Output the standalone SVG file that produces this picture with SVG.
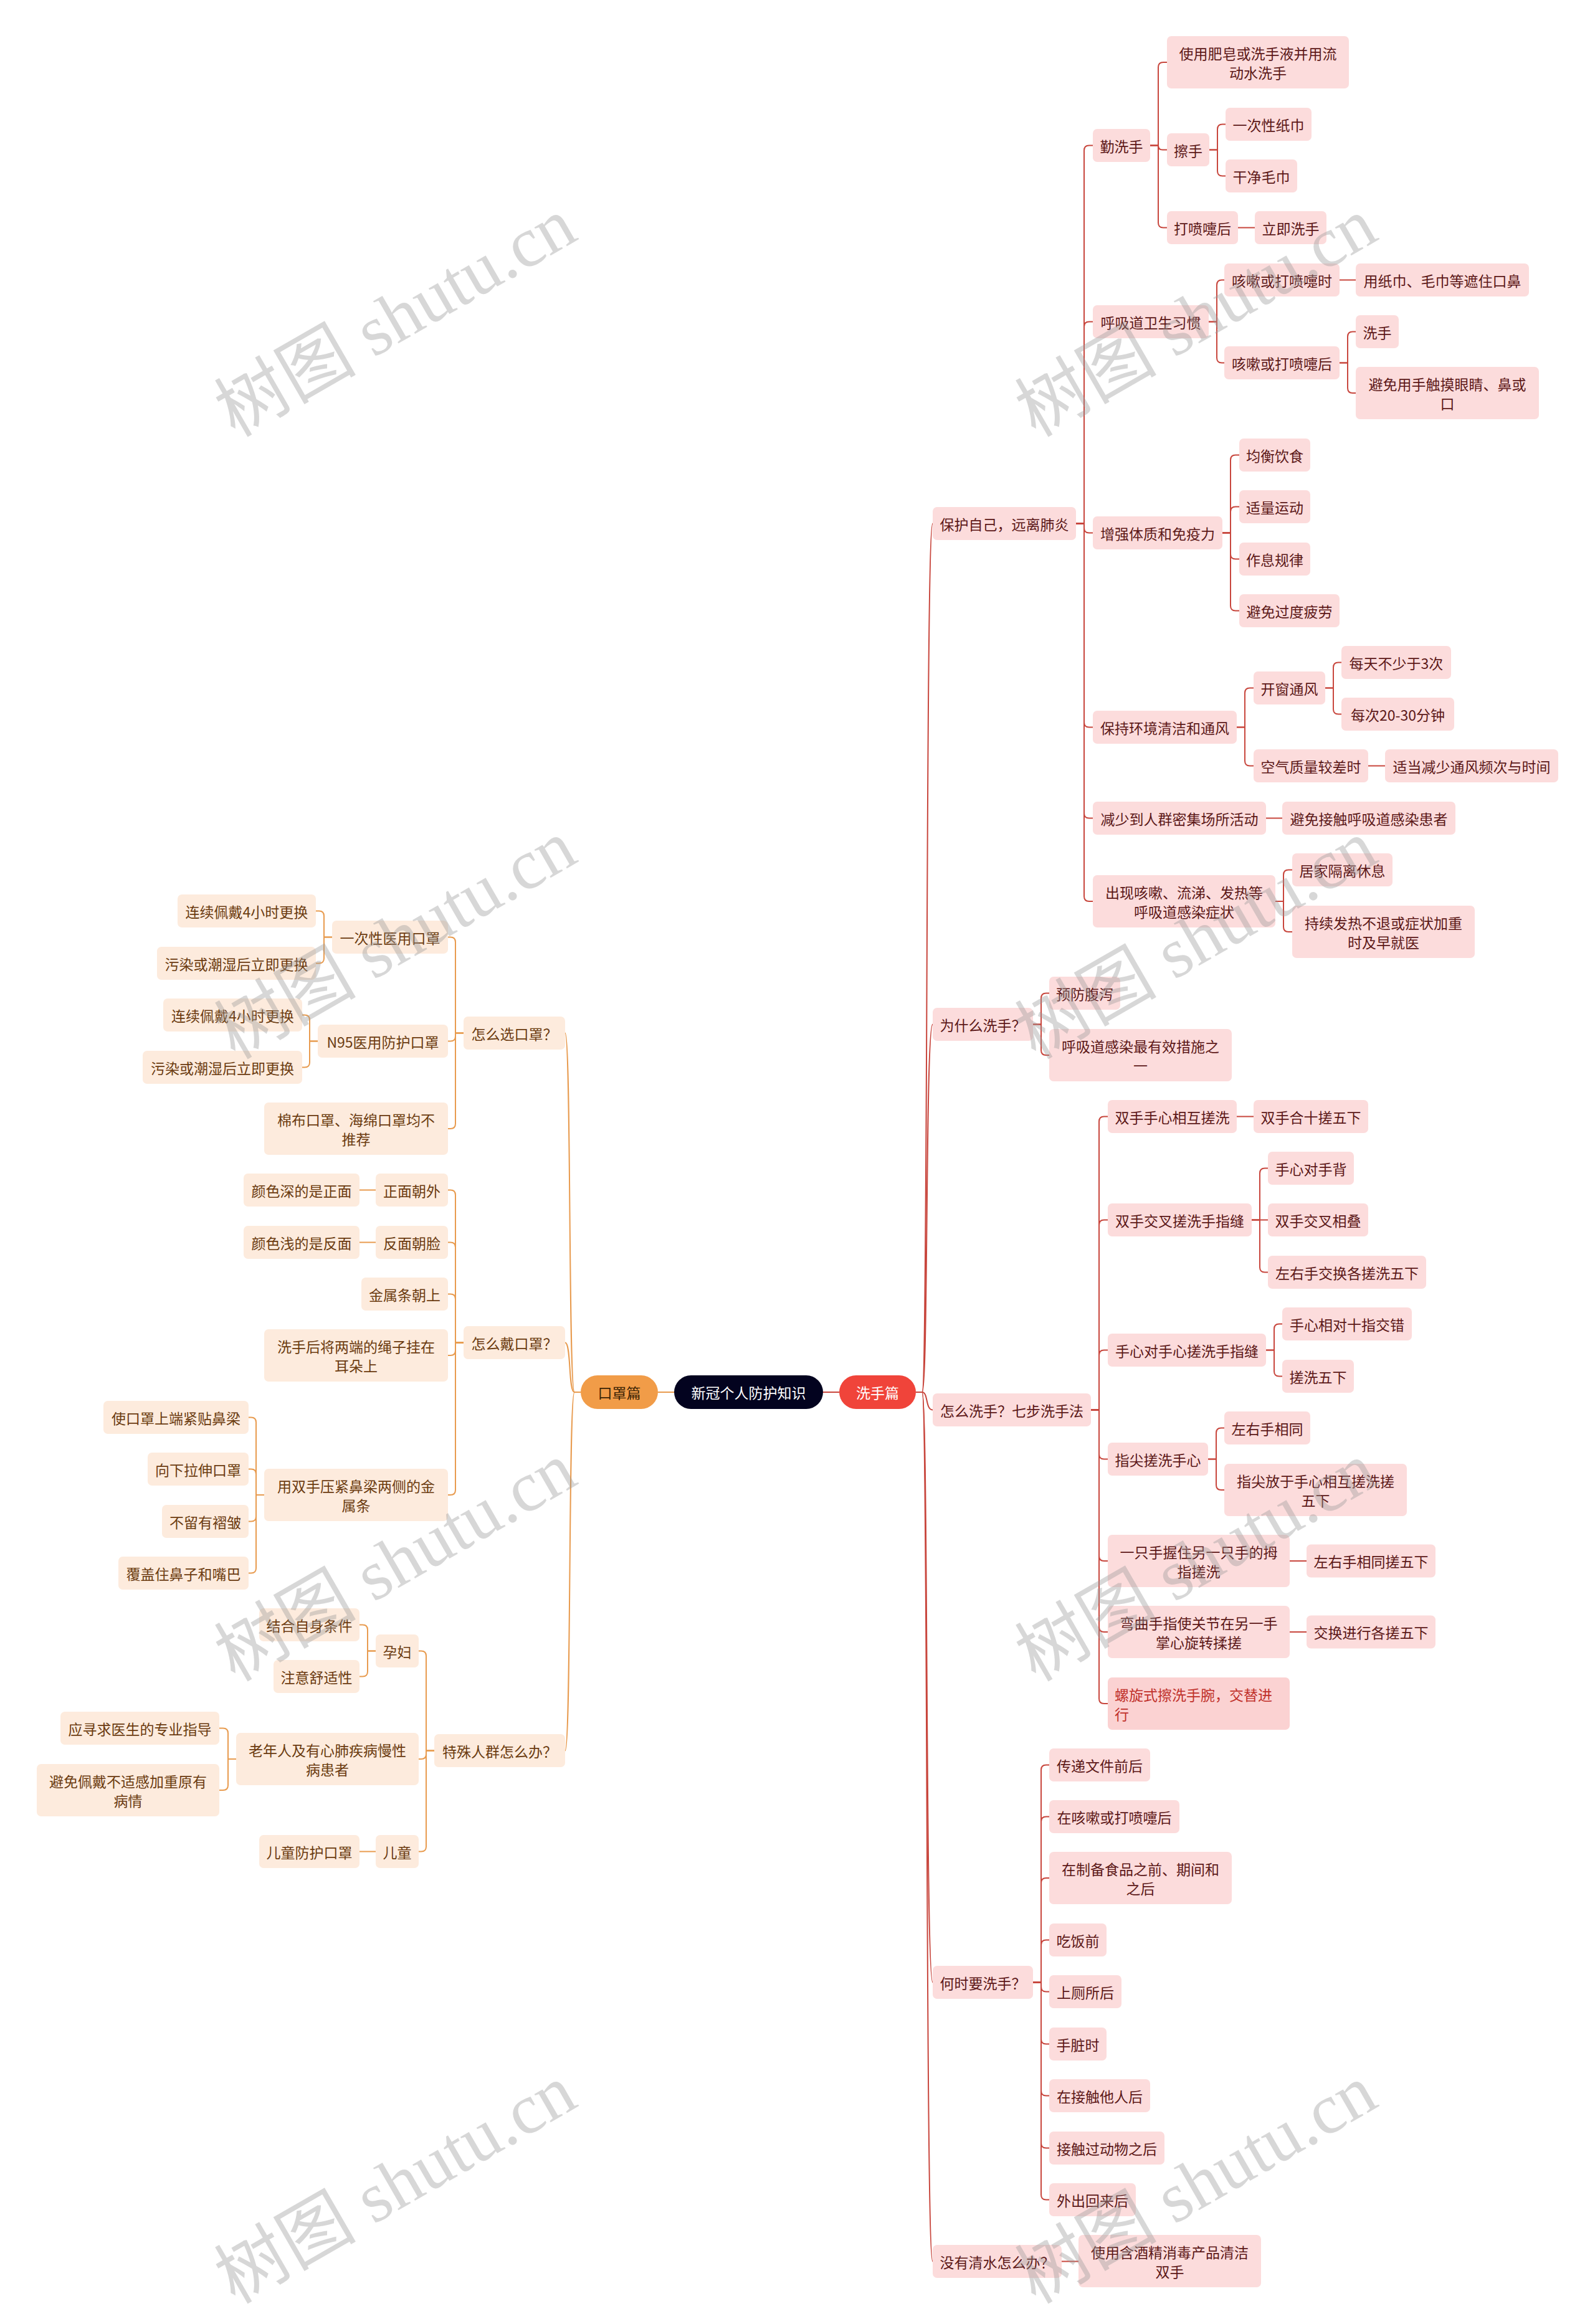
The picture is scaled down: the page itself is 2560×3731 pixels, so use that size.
<svg xmlns="http://www.w3.org/2000/svg" width="2560" height="3731" viewBox="0 0 2560 3731">
<style>
text{font-family:"Noto Sans CJK SC","Noto Sans",sans-serif;font-size:23px;text-anchor:middle;dominant-baseline:central}
.r rect{fill:#FCDCDC}
.r text{fill:#5C1818}
.l rect{fill:#FDEBDD}
.l text{fill:#6B3B10}
.cr{stroke:#C8463D;fill:none;stroke-width:2}
.cl{stroke:#E89B4F;fill:none;stroke-width:2}
.wm{font-family:"Liberation Serif","Noto Sans CJK SC",serif;font-size:114px;fill:#999;opacity:.38;dominant-baseline:alphabetic}
</style>
<rect width="2560" height="3731" fill="#fff"/>
<g id="connectors">
<path class="cl" d="M1056 2235H1082"/>
<path class="cr" d="M1321 2235H1347"/>
<path class="cr" d="M1470 2235H1480C1490 2235 1485 840.5 1497 840.5"/>
<path class="cr" d="M1470 2235H1480C1490 2235 1485 1644.5 1497 1644.5"/>
<path class="cr" d="M1470 2235H1480C1490 2235 1485 2263.5 1497 2263.5"/>
<path class="cr" d="M1470 2235H1480C1490 2235 1485 3182.5 1497 3182.5"/>
<path class="cr" d="M1470 2235H1480C1490 2235 1485 3630.5 1497 3630.5"/>
<path class="cl" d="M932 2235H922C912 2235 917 1658.5 907 1658.5"/>
<path class="cl" d="M932 2235H922C912 2235 917 2155.5 907 2155.5"/>
<path class="cl" d="M932 2235H922C912 2235 917 2810.5 907 2810.5"/>
<path class="cr" d="M1727 840.5H1740V241.5Q1740 233.5 1748 233.5H1754"/>
<path class="cr" d="M1727 840.5H1740V524.5Q1740 516.5 1748 516.5H1754"/>
<path class="cr" d="M1727 840.5H1740V847.5Q1740 855.5 1748 855.5H1754"/>
<path class="cr" d="M1727 840.5H1740V1159.5Q1740 1167.5 1748 1167.5H1754"/>
<path class="cr" d="M1727 840.5H1740V1305.5Q1740 1313.5 1748 1313.5H1754"/>
<path class="cr" d="M1727 840.5H1740V1439Q1740 1447 1748 1447H1754"/>
<path class="cr" d="M1846 233.5H1859V108Q1859 100 1867 100H1873"/>
<path class="cr" d="M1846 233.5H1859Q1859 240.5 1866 240.5H1873"/>
<path class="cr" d="M1846 233.5H1859V357.5Q1859 365.5 1867 365.5H1873"/>
<path class="cr" d="M1941 240.5H1954V207.5Q1954 199.5 1962 199.5H1967"/>
<path class="cr" d="M1941 240.5H1954V274.5Q1954 282.5 1962 282.5H1967"/>
<path class="cr" d="M1987 365.5H2014"/>
<path class="cr" d="M1940 516.5H1953V457.5Q1953 449.5 1961 449.5H1965"/>
<path class="cr" d="M1940 516.5H1953V574.5Q1953 582.5 1961 582.5H1965"/>
<path class="cr" d="M2150 449.5H2176"/>
<path class="cr" d="M2150 582.5H2163V540.5Q2163 532.5 2171 532.5H2176"/>
<path class="cr" d="M2150 582.5H2163V623Q2163 631 2171 631H2176"/>
<path class="cr" d="M1962 855.5H1975V738.5Q1975 730.5 1983 730.5H1989"/>
<path class="cr" d="M1962 855.5H1975V821.5Q1975 813.5 1983 813.5H1989"/>
<path class="cr" d="M1962 855.5H1975V889.5Q1975 897.5 1983 897.5H1989"/>
<path class="cr" d="M1962 855.5H1975V972.5Q1975 980.5 1983 980.5H1989"/>
<path class="cr" d="M1985 1167.5H1998V1112.5Q1998 1104.5 2006 1104.5H2012"/>
<path class="cr" d="M1985 1167.5H1998V1221.5Q1998 1229.5 2006 1229.5H2012"/>
<path class="cr" d="M2127 1104.5H2140V1071.5Q2140 1063.5 2148 1063.5H2153"/>
<path class="cr" d="M2127 1104.5H2140V1138.5Q2140 1146.5 2148 1146.5H2153"/>
<path class="cr" d="M2196 1229.5H2223"/>
<path class="cr" d="M2032 1313.5H2058"/>
<path class="cr" d="M2047 1447H2060V1404.5Q2060 1396.5 2068 1396.5H2074"/>
<path class="cr" d="M2047 1447H2060V1488Q2060 1496 2068 1496H2074"/>
<path class="cr" d="M1658 1644.5H1671V1602.5Q1671 1594.5 1679 1594.5H1684"/>
<path class="cr" d="M1658 1644.5H1671V1686Q1671 1694 1679 1694H1684"/>
<path class="cr" d="M1751 2263.5H1764V1800.5Q1764 1792.5 1772 1792.5H1778"/>
<path class="cr" d="M1751 2263.5H1764V1966.5Q1764 1958.5 1772 1958.5H1778"/>
<path class="cr" d="M1751 2263.5H1764V2175.5Q1764 2167.5 1772 2167.5H1778"/>
<path class="cr" d="M1751 2263.5H1764V2334.5Q1764 2342.5 1772 2342.5H1778"/>
<path class="cr" d="M1751 2263.5H1764V2498Q1764 2506 1772 2506H1778"/>
<path class="cr" d="M1751 2263.5H1764V2612Q1764 2620 1772 2620H1778"/>
<path class="cr" d="M1751 2263.5H1764V2727Q1764 2735 1772 2735H1778"/>
<path class="cr" d="M1985 1792.5H2012"/>
<path class="cr" d="M2009 1958.5H2022V1883.5Q2022 1875.5 2030 1875.5H2035"/>
<path class="cr" d="M2009 1958.5H2035"/>
<path class="cr" d="M2009 1958.5H2022V2034.5Q2022 2042.5 2030 2042.5H2035"/>
<path class="cr" d="M2032 2167.5H2045V2133.5Q2045 2125.5 2053 2125.5H2058"/>
<path class="cr" d="M2032 2167.5H2045V2201.5Q2045 2209.5 2053 2209.5H2058"/>
<path class="cr" d="M1939 2342.5H1952V2300.5Q1952 2292.5 1960 2292.5H1965"/>
<path class="cr" d="M1939 2342.5H1952V2384Q1952 2392 1960 2392H1965"/>
<path class="cr" d="M2070 2506H2097"/>
<path class="cr" d="M2070 2620H2097"/>
<path class="cr" d="M1658 3182.5H1671V2841.5Q1671 2833.5 1679 2833.5H1684"/>
<path class="cr" d="M1658 3182.5H1671V2924.5Q1671 2916.5 1679 2916.5H1684"/>
<path class="cr" d="M1658 3182.5H1671V3023Q1671 3015 1679 3015H1684"/>
<path class="cr" d="M1658 3182.5H1671V3122.5Q1671 3114.5 1679 3114.5H1684"/>
<path class="cr" d="M1658 3182.5H1671V3189.5Q1671 3197.5 1679 3197.5H1684"/>
<path class="cr" d="M1658 3182.5H1671V3273.5Q1671 3281.5 1679 3281.5H1684"/>
<path class="cr" d="M1658 3182.5H1671V3356.5Q1671 3364.5 1679 3364.5H1684"/>
<path class="cr" d="M1658 3182.5H1671V3440.5Q1671 3448.5 1679 3448.5H1684"/>
<path class="cr" d="M1658 3182.5H1671V3523.5Q1671 3531.5 1679 3531.5H1684"/>
<path class="cr" d="M1704 3630.5H1731"/>
<path class="cl" d="M744 1658.5H731V1512.5Q731 1504.5 723 1504.5H719"/>
<path class="cl" d="M744 1658.5H731V1663.5Q731 1671.5 723 1671.5H719"/>
<path class="cl" d="M744 1658.5H731V1804Q731 1812 723 1812H719"/>
<path class="cl" d="M533 1504.5H520V1470.5Q520 1462.5 512 1462.5H507"/>
<path class="cl" d="M533 1504.5H520V1538.5Q520 1546.5 512 1546.5H507"/>
<path class="cl" d="M510 1671.5H497V1637.5Q497 1629.5 489 1629.5H485"/>
<path class="cl" d="M510 1671.5H497V1705.5Q497 1713.5 489 1713.5H485"/>
<path class="cl" d="M744 2155.5H731V1918.5Q731 1910.5 723 1910.5H719"/>
<path class="cl" d="M744 2155.5H731V2002.5Q731 1994.5 723 1994.5H719"/>
<path class="cl" d="M744 2155.5H731V2085.5Q731 2077.5 723 2077.5H719"/>
<path class="cl" d="M744 2155.5H731V2168Q731 2176 723 2176H719"/>
<path class="cl" d="M744 2155.5H731V2392Q731 2400 723 2400H719"/>
<path class="cl" d="M603 1910.5H577"/>
<path class="cl" d="M603 1994.5H577"/>
<path class="cl" d="M424 2400H411V2283.5Q411 2275.5 403 2275.5H399"/>
<path class="cl" d="M424 2400H411V2366.5Q411 2358.5 403 2358.5H399"/>
<path class="cl" d="M424 2400H411V2434.5Q411 2442.5 403 2442.5H399"/>
<path class="cl" d="M424 2400H411V2517.5Q411 2525.5 403 2525.5H399"/>
<path class="cl" d="M697 2810.5H684V2658.5Q684 2650.5 676 2650.5H672"/>
<path class="cl" d="M697 2810.5H684V2816Q684 2824 676 2824H672"/>
<path class="cl" d="M697 2810.5H684V2964.5Q684 2972.5 676 2972.5H672"/>
<path class="cl" d="M603 2650.5H590V2616.5Q590 2608.5 582 2608.5H577"/>
<path class="cl" d="M603 2650.5H590V2683.5Q590 2691.5 582 2691.5H577"/>
<path class="cl" d="M379 2824H366V2782.5Q366 2774.5 358 2774.5H352"/>
<path class="cl" d="M379 2824H366V2866Q366 2874 358 2874H352"/>
<path class="cl" d="M603 2972.5H577"/>
</g>
<g id="root"><rect x="1082" y="2208" width="239" height="54" rx="27" fill="#03031F"/><text x="1201.5" y="2235" fill="#fff">新冠个人防护知识</text></g>
<g id="mask"><rect x="932" y="2208" width="124" height="54" rx="27" fill="#F19C48"/><text x="994" y="2235" fill="#3A2305">口罩篇</text></g>
<g id="wash"><rect x="1347" y="2208" width="123" height="54" rx="27" fill="#F0443A"/><text x="1408.5" y="2235" fill="#fff">洗手篇</text></g>
<g id="r_protect" class="r"><rect x="1497" y="814" width="230" height="53" rx="7"/><text x="1612" y="840.5">保护自己，远离肺炎</text></g>
<g id="r_why" class="r"><rect x="1497" y="1618" width="161" height="53" rx="7"/><text x="1577.5" y="1644.5">为什么洗手？</text></g>
<g id="r_how" class="r"><rect x="1497" y="2237" width="254" height="53" rx="7"/><text x="1624" y="2263.5">怎么洗手？七步洗手法</text></g>
<g id="r_when" class="r"><rect x="1497" y="3156" width="161" height="53" rx="7"/><text x="1577.5" y="3182.5">何时要洗手？</text></g>
<g id="r_nowater" class="r"><rect x="1497" y="3604" width="207" height="53" rx="7"/><text x="1600.5" y="3630.5">没有清水怎么办？</text></g>
<g id="r_qxs" class="r"><rect x="1754" y="207" width="92" height="53" rx="7"/><text x="1800" y="233.5">勤洗手</text></g>
<g id="r_hxd" class="r"><rect x="1754" y="490" width="186" height="53" rx="7"/><text x="1847" y="516.5">呼吸道卫生习惯</text></g>
<g id="r_zq" class="r"><rect x="1754" y="829" width="208" height="53" rx="7"/><text x="1858" y="855.5">增强体质和免疫力</text></g>
<g id="r_bc" class="r"><rect x="1754" y="1141" width="231" height="53" rx="7"/><text x="1869.5" y="1167.5">保持环境清洁和通风</text></g>
<g id="r_js" class="r"><rect x="1754" y="1287" width="278" height="53" rx="7"/><text x="1893" y="1313.5">减少到人群密集场所活动</text></g>
<g id="r_cx" class="r"><rect x="1754" y="1405" width="293" height="84" rx="7"/><text x="1900.5" y="1431.5">出现咳嗽、流涕、发热等</text><text x="1900.5" y="1462.5">呼吸道感染症状</text></g>
<g id="r_sy" class="r"><rect x="1873" y="58" width="292" height="84" rx="7"/><text x="2019" y="84.5">使用肥皂或洗手液并用流</text><text x="2019" y="115.5">动水洗手</text></g>
<g id="r_cs" class="r"><rect x="1873" y="214" width="68" height="53" rx="7"/><text x="1907" y="240.5">擦手</text></g>
<g id="r_dpt" class="r"><rect x="1873" y="339" width="114" height="53" rx="7"/><text x="1930" y="365.5">打喷嚏后</text></g>
<g id="r_ycx" class="r"><rect x="1967" y="173" width="138" height="53" rx="7"/><text x="2036" y="199.5">一次性纸巾</text></g>
<g id="r_gj" class="r"><rect x="1967" y="256" width="115" height="53" rx="7"/><text x="2024.5" y="282.5">干净毛巾</text></g>
<g id="r_lj" class="r"><rect x="2014" y="339" width="115" height="53" rx="7"/><text x="2071.5" y="365.5">立即洗手</text></g>
<g id="r_ks1" class="r"><rect x="1965" y="423" width="185" height="53" rx="7"/><text x="2057.5" y="449.5">咳嗽或打喷嚏时</text></g>
<g id="r_ks2" class="r"><rect x="1965" y="556" width="185" height="53" rx="7"/><text x="2057.5" y="582.5">咳嗽或打喷嚏后</text></g>
<g id="r_yzj" class="r"><rect x="2176" y="423" width="278" height="53" rx="7"/><text x="2315" y="449.5">用纸巾、毛巾等遮住口鼻</text></g>
<g id="r_xs" class="r"><rect x="2176" y="506" width="69" height="53" rx="7"/><text x="2210.5" y="532.5">洗手</text></g>
<g id="r_bm" class="r"><rect x="2176" y="589" width="294" height="84" rx="7"/><text x="2323" y="615.5">避免用手触摸眼睛、鼻或</text><text x="2323" y="646.5">口</text></g>
<g id="r_jh" class="r"><rect x="1989" y="704" width="114" height="53" rx="7"/><text x="2046" y="730.5">均衡饮食</text></g>
<g id="r_sl" class="r"><rect x="1989" y="787" width="114" height="53" rx="7"/><text x="2046" y="813.5">适量运动</text></g>
<g id="r_zx" class="r"><rect x="1989" y="871" width="114" height="53" rx="7"/><text x="2046" y="897.5">作息规律</text></g>
<g id="r_bmgd" class="r"><rect x="1989" y="954" width="161" height="53" rx="7"/><text x="2069.5" y="980.5">避免过度疲劳</text></g>
<g id="r_kc" class="r"><rect x="2012" y="1078" width="115" height="53" rx="7"/><text x="2069.5" y="1104.5">开窗通风</text></g>
<g id="r_kq" class="r"><rect x="2012" y="1203" width="184" height="53" rx="7"/><text x="2104" y="1229.5">空气质量较差时</text></g>
<g id="r_mt" class="r"><rect x="2153" y="1037" width="176" height="53" rx="7"/><text x="2241" y="1063.5">每天不少于3次</text></g>
<g id="r_mc" class="r"><rect x="2153" y="1120" width="181" height="53" rx="7"/><text x="2243.5" y="1146.5">每次20-30分钟</text></g>
<g id="r_sd" class="r"><rect x="2223" y="1203" width="278" height="53" rx="7"/><text x="2362" y="1229.5">适当减少通风频次与时间</text></g>
<g id="r_bmjc" class="r"><rect x="2058" y="1287" width="278" height="53" rx="7"/><text x="2197" y="1313.5">避免接触呼吸道感染患者</text></g>
<g id="r_jj" class="r"><rect x="2074" y="1370" width="161" height="53" rx="7"/><text x="2154.5" y="1396.5">居家隔离休息</text></g>
<g id="r_cxfr" class="r"><rect x="2074" y="1454" width="293" height="84" rx="7"/><text x="2220.5" y="1480.5">持续发热不退或症状加重</text><text x="2220.5" y="1511.5">时及早就医</text></g>
<g id="r_yf" class="r"><rect x="1684" y="1568" width="114" height="53" rx="7"/><text x="1741" y="1594.5">预防腹泻</text></g>
<g id="r_hxgr" class="r"><rect x="1684" y="1652" width="293" height="84" rx="7"/><text x="1830.5" y="1678.5">呼吸道感染最有效措施之</text><text x="1830.5" y="1709.5">一</text></g>
<g id="r_s1" class="r"><rect x="1778" y="1766" width="207" height="53" rx="7"/><text x="1881.5" y="1792.5">双手手心相互搓洗</text></g>
<g id="r_s2" class="r"><rect x="1778" y="1932" width="231" height="53" rx="7"/><text x="1893.5" y="1958.5">双手交叉搓洗手指缝</text></g>
<g id="r_s3" class="r"><rect x="1778" y="2141" width="254" height="53" rx="7"/><text x="1905" y="2167.5">手心对手心搓洗手指缝</text></g>
<g id="r_s4" class="r"><rect x="1778" y="2316" width="161" height="53" rx="7"/><text x="1858.5" y="2342.5">指尖搓洗手心</text></g>
<g id="r_s5" class="r"><rect x="1778" y="2464" width="292" height="84" rx="7"/><text x="1924" y="2490.5">一只手握住另一只手的拇</text><text x="1924" y="2521.5">指搓洗</text></g>
<g id="r_s6" class="r"><rect x="1778" y="2578" width="292" height="84" rx="7"/><text x="1924" y="2604.5">弯曲手指使关节在另一手</text><text x="1924" y="2635.5">掌心旋转揉搓</text></g>
<g id="r_s7"><rect x="1778" y="2693" width="292" height="84" rx="7" fill="#FBD2D2"/><text x="1789" y="2719.5" fill="#C0302A" style="text-anchor:start">螺旋式擦洗手腕，交替进</text><text x="1789" y="2750.5" fill="#C0302A" style="text-anchor:start">行</text></g>
<g id="r_s1a" class="r"><rect x="2012" y="1766" width="184" height="53" rx="7"/><text x="2104" y="1792.5">双手合十搓五下</text></g>
<g id="r_s2a" class="r"><rect x="2035" y="1849" width="138" height="53" rx="7"/><text x="2104" y="1875.5">手心对手背</text></g>
<g id="r_s2b" class="r"><rect x="2035" y="1932" width="161" height="53" rx="7"/><text x="2115.5" y="1958.5">双手交叉相叠</text></g>
<g id="r_s2c" class="r"><rect x="2035" y="2016" width="254" height="53" rx="7"/><text x="2162" y="2042.5">左右手交换各搓洗五下</text></g>
<g id="r_s3a" class="r"><rect x="2058" y="2099" width="208" height="53" rx="7"/><text x="2162" y="2125.5">手心相对十指交错</text></g>
<g id="r_s3b" class="r"><rect x="2058" y="2183" width="115" height="53" rx="7"/><text x="2115.5" y="2209.5">搓洗五下</text></g>
<g id="r_s4a" class="r"><rect x="1965" y="2266" width="138" height="53" rx="7"/><text x="2034" y="2292.5">左右手相同</text></g>
<g id="r_s4b" class="r"><rect x="1965" y="2350" width="293" height="84" rx="7"/><text x="2111.5" y="2376.5">指尖放于手心相互搓洗搓</text><text x="2111.5" y="2407.5">五下</text></g>
<g id="r_s5a" class="r"><rect x="2097" y="2479.5" width="207" height="53" rx="7"/><text x="2200.5" y="2506">左右手相同搓五下</text></g>
<g id="r_s6a" class="r"><rect x="2097" y="2593.5" width="207" height="53" rx="7"/><text x="2200.5" y="2620">交换进行各搓五下</text></g>
<g id="r_w1" class="r"><rect x="1684" y="2807" width="162" height="53" rx="7"/><text x="1765" y="2833.5">传递文件前后</text></g>
<g id="r_w2" class="r"><rect x="1684" y="2890" width="209" height="53" rx="7"/><text x="1788.5" y="2916.5">在咳嗽或打喷嚏后</text></g>
<g id="r_w3" class="r"><rect x="1684" y="2973" width="293" height="84" rx="7"/><text x="1830.5" y="2999.5">在制备食品之前、期间和</text><text x="1830.5" y="3030.5">之后</text></g>
<g id="r_w4" class="r"><rect x="1684" y="3088" width="92" height="53" rx="7"/><text x="1730" y="3114.5">吃饭前</text></g>
<g id="r_w5" class="r"><rect x="1684" y="3171" width="116" height="53" rx="7"/><text x="1742" y="3197.5">上厕所后</text></g>
<g id="r_w6" class="r"><rect x="1684" y="3255" width="92" height="53" rx="7"/><text x="1730" y="3281.5">手脏时</text></g>
<g id="r_w7" class="r"><rect x="1684" y="3338" width="162" height="53" rx="7"/><text x="1765" y="3364.5">在接触他人后</text></g>
<g id="r_w8" class="r"><rect x="1684" y="3422" width="185" height="53" rx="7"/><text x="1776.5" y="3448.5">接触过动物之后</text></g>
<g id="r_w9" class="r"><rect x="1684" y="3505" width="139" height="53" rx="7"/><text x="1753.5" y="3531.5">外出回来后</text></g>
<g id="r_n1" class="r"><rect x="1731" y="3588" width="293" height="84" rx="7"/><text x="1877.5" y="3614.5">使用含酒精消毒产品清洁</text><text x="1877.5" y="3645.5">双手</text></g>
<g id="l_xz" class="l"><rect x="744" y="1632" width="163" height="53" rx="7"/><text x="825.5" y="1658.5">怎么选口罩？</text></g>
<g id="l_dai" class="l"><rect x="744" y="2129" width="163" height="53" rx="7"/><text x="825.5" y="2155.5">怎么戴口罩？</text></g>
<g id="l_ts" class="l"><rect x="697" y="2784" width="210" height="53" rx="7"/><text x="802" y="2810.5">特殊人群怎么办？</text></g>
<g id="l_ycx" class="l"><rect x="533" y="1478" width="186" height="53" rx="7"/><text x="626" y="1504.5">一次性医用口罩</text></g>
<g id="l_n95" class="l"><rect x="510" y="1645" width="209" height="53" rx="7"/><text x="614.5" y="1671.5">N95医用防护口罩</text></g>
<g id="l_mb" class="l"><rect x="424" y="1770" width="295" height="84" rx="7"/><text x="571.5" y="1796.5">棉布口罩、海绵口罩均不</text><text x="571.5" y="1827.5">推荐</text></g>
<g id="l_a1" class="l"><rect x="285" y="1436" width="222" height="53" rx="7"/><text x="396" y="1462.5">连续佩戴4小时更换</text></g>
<g id="l_a2" class="l"><rect x="252" y="1520" width="255" height="53" rx="7"/><text x="379.5" y="1546.5">污染或潮湿后立即更换</text></g>
<g id="l_b1" class="l"><rect x="262" y="1603" width="223" height="53" rx="7"/><text x="373.5" y="1629.5">连续佩戴4小时更换</text></g>
<g id="l_b2" class="l"><rect x="229" y="1687" width="256" height="53" rx="7"/><text x="357" y="1713.5">污染或潮湿后立即更换</text></g>
<g id="l_zm" class="l"><rect x="603" y="1884" width="116" height="53" rx="7"/><text x="661" y="1910.5">正面朝外</text></g>
<g id="l_fm" class="l"><rect x="603" y="1968" width="116" height="53" rx="7"/><text x="661" y="1994.5">反面朝脸</text></g>
<g id="l_js" class="l"><rect x="580" y="2051" width="139" height="53" rx="7"/><text x="649.5" y="2077.5">金属条朝上</text></g>
<g id="l_xsh" class="l"><rect x="424" y="2134" width="295" height="84" rx="7"/><text x="571.5" y="2160.5">洗手后将两端的绳子挂在</text><text x="571.5" y="2191.5">耳朵上</text></g>
<g id="l_ysh" class="l"><rect x="424" y="2358" width="295" height="84" rx="7"/><text x="571.5" y="2384.5">用双手压紧鼻梁两侧的金</text><text x="571.5" y="2415.5">属条</text></g>
<g id="l_ys" class="l"><rect x="391" y="1884" width="186" height="53" rx="7"/><text x="484" y="1910.5">颜色深的是正面</text></g>
<g id="l_yq" class="l"><rect x="391" y="1968" width="186" height="53" rx="7"/><text x="484" y="1994.5">颜色浅的是反面</text></g>
<g id="l_c1" class="l"><rect x="166" y="2249" width="233" height="53" rx="7"/><text x="282.5" y="2275.5">使口罩上端紧贴鼻梁</text></g>
<g id="l_c2" class="l"><rect x="237" y="2332" width="162" height="53" rx="7"/><text x="318" y="2358.5">向下拉伸口罩</text></g>
<g id="l_c3" class="l"><rect x="260" y="2416" width="139" height="53" rx="7"/><text x="329.5" y="2442.5">不留有褶皱</text></g>
<g id="l_c4" class="l"><rect x="190" y="2499" width="209" height="53" rx="7"/><text x="294.5" y="2525.5">覆盖住鼻子和嘴巴</text></g>
<g id="l_yf" class="l"><rect x="603" y="2624" width="69" height="53" rx="7"/><text x="637.5" y="2650.5">孕妇</text></g>
<g id="l_lr" class="l"><rect x="379" y="2782" width="293" height="84" rx="7"/><text x="525.5" y="2808.5">老年人及有心肺疾病慢性</text><text x="525.5" y="2839.5">病患者</text></g>
<g id="l_et" class="l"><rect x="603" y="2946" width="69" height="53" rx="7"/><text x="637.5" y="2972.5">儿童</text></g>
<g id="l_jh" class="l"><rect x="416" y="2582" width="161" height="53" rx="7"/><text x="496.5" y="2608.5">结合自身条件</text></g>
<g id="l_zy" class="l"><rect x="439" y="2665" width="138" height="53" rx="7"/><text x="508" y="2691.5">注意舒适性</text></g>
<g id="l_yx" class="l"><rect x="97" y="2748" width="255" height="53" rx="7"/><text x="224.5" y="2774.5">应寻求医生的专业指导</text></g>
<g id="l_bm" class="l"><rect x="59" y="2832" width="293" height="84" rx="7"/><text x="205.5" y="2858.5">避免佩戴不适感加重原有</text><text x="205.5" y="2889.5">病情</text></g>
<g id="l_etfh" class="l"><rect x="416" y="2946" width="161" height="53" rx="7"/><text x="496.5" y="2972.5">儿童防护口罩</text></g>
<g id="watermarks">
<text class="wm" x="654" y="543" transform="rotate(-30 654 543)">树图 shutu.cn</text>
<text class="wm" x="1939" y="543" transform="rotate(-30 1939 543)">树图 shutu.cn</text>
<text class="wm" x="654" y="1542" transform="rotate(-30 654 1542)">树图 shutu.cn</text>
<text class="wm" x="1939" y="1542" transform="rotate(-30 1939 1542)">树图 shutu.cn</text>
<text class="wm" x="654" y="2541" transform="rotate(-30 654 2541)">树图 shutu.cn</text>
<text class="wm" x="1939" y="2541" transform="rotate(-30 1939 2541)">树图 shutu.cn</text>
<text class="wm" x="654" y="3540" transform="rotate(-30 654 3540)">树图 shutu.cn</text>
<text class="wm" x="1939" y="3540" transform="rotate(-30 1939 3540)">树图 shutu.cn</text>
</g>
</svg>
